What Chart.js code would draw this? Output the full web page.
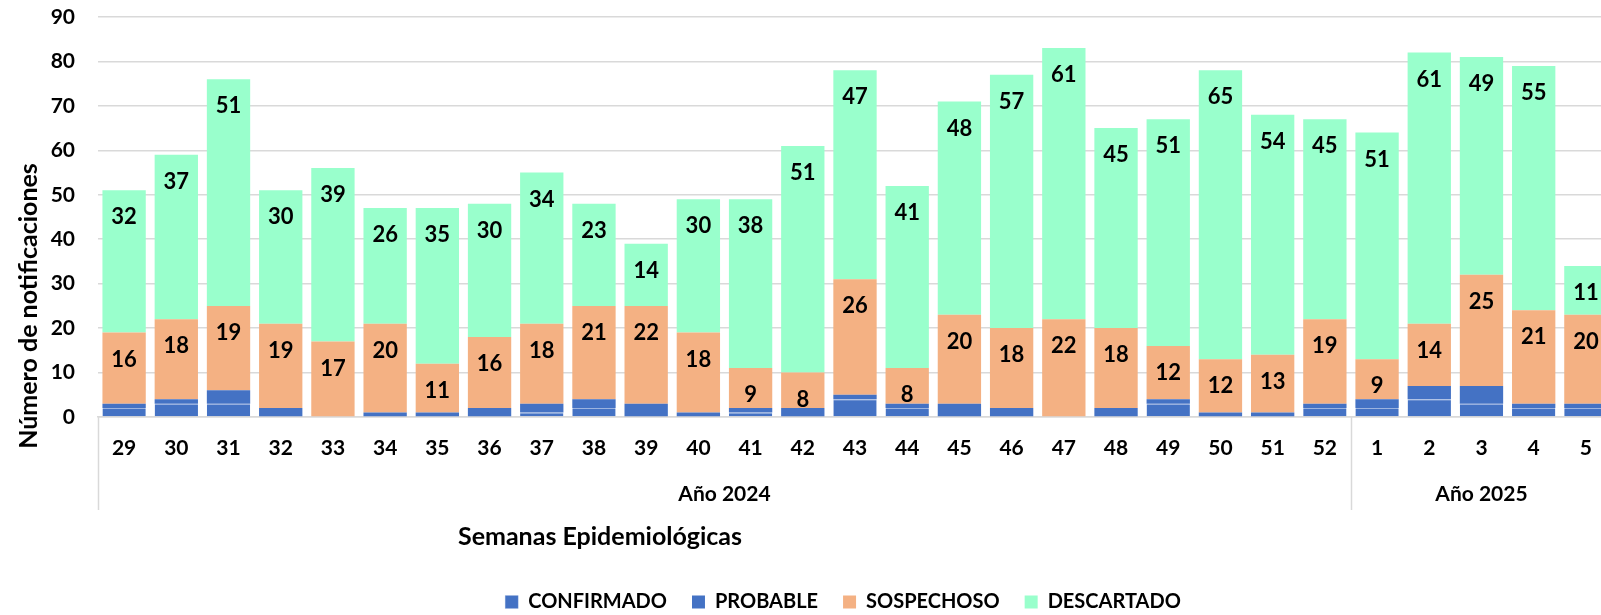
<!DOCTYPE html>
<html>
<head>
<meta charset="utf-8">
<script src="https://cdn.jsdelivr.net/npm/chart.js@4"></script>
<style>
  html, body { margin: 0; padding: 0; background: #fff; overflow: hidden; }
  #wrap { width: 1613px; height: 615px; }
</style>
</head>
<body>
<div id="wrap"><canvas id="notifChart" width="1613" height="615"></canvas></div>
<script>
// semanas epidemiologicas (29/2024 a 5/2025)
const semanas = ["29", "30", "31", "32", "33", "34", "35", "36", "37", "38", "39", "40", "41", "42", "43", "44",
    "45", "46", "47", "48", "49", "50", "51", "52", "1", "2", "3", "4", "5"];
const anios = ["Año 2024", "Año 2025"];
const semanasPorAnio = [24, 5];

const confirmado = [2, 3, 3, 0, 0, 0, 0, 0, 1, 2, 0, 0, 1, 0, 4, 2, 0, 0, 0, 0, 3, 0, 0, 2, 2, 4, 3, 2, 2];
const probable = [1, 1, 3, 2, 0, 1, 1, 2, 2, 2, 3, 1, 1, 2, 1, 1, 3, 2, 0, 2, 1, 1, 1, 1, 2, 3, 4, 1, 1];
const sospechoso = [16, 18, 19, 19, 17, 20, 11, 16, 18, 21, 22, 18, 9, 8, 26, 8, 20, 18, 22, 18, 12, 12, 13, 19, 9, 14, 25, 21, 20];
const descartado = [32, 37, 51, 30, 39, 26, 35, 30, 34, 23, 14, 30, 38, 51, 47, 41, 48, 57, 61, 45, 51, 65, 54, 45, 51, 61, 49, 55, 11];

const yTicks = [0, 10, 20, 30, 40, 50, 60, 70, 80, 90];

const FONT = "Lato, 'Open Sans', sans-serif";
const GRID = "#d9d9d9";

// etiquetas dentro del extremo de cada segmento (solo sospechoso y descartado)
const etiquetas = {
    id: "etiquetas",
    afterDatasetsDraw(chart) {
        const ctx = chart.ctx;
        ctx.save();
        ctx.font = "bold 22px " + FONT;
        ctx.fillStyle = "#000";
        ctx.textAlign = "center";
        ctx.textBaseline = "middle";
        [2, 3].forEach(di => {
            const meta = chart.getDatasetMeta(di);
            const values = chart.data.datasets[di].data;
            meta.data.forEach((bar, i) => {
                if (!values[i]) return;
                ctx.fillText(String(values[i]), bar.x, bar.y + 27);
            });
        });
        ctx.restore();
    }
};

// separadores de año, titulos de ejes
const decoraciones = {
    id: "decoraciones",
    afterLayout(chart) {
        // mover la leyenda como en el original
        const lg = chart.legend;
        lg.left += 18; lg.right += 18;
        lg.top += 7; lg.bottom += 7;
    },
    afterDraw(chart) {
        const ctx = chart.ctx;
        const x = chart.scales.x;
        const area = chart.chartArea;
        ctx.save();
        ctx.strokeStyle = GRID;
        ctx.lineWidth = 1.5;
        const half = (x.getPixelForValue(1) - x.getPixelForValue(0)) / 2;
        let start = 0;
        ctx.font = "bold 21px " + FONT;
        ctx.fillStyle = "#000";
        ctx.textAlign = "center";
        ctx.textBaseline = "middle";
        semanasPorAnio.forEach((n, g) => {
            const x0 = x.getPixelForValue(start) - half;
            const x1 = x.getPixelForValue(start + n - 1) + half;
            ctx.beginPath();
            ctx.moveTo(Math.round(x0) + 0.5, area.bottom);
            ctx.lineTo(Math.round(x0) + 0.5, area.bottom + 93);
            ctx.stroke();
            ctx.fillText(anios[g], (x0 + x1) / 2, area.bottom + 77);
            start += n;
        });
        ctx.font = "bold 25px " + FONT;
        // titulo eje x
        ctx.fillText("Semanas Epidemiológicas", 600, area.bottom + 120);
        // titulo eje y
        ctx.translate(29, 306);
        ctx.rotate(-Math.PI / 2);
        ctx.fillText("Número de notificaciones", 0, 0);
        ctx.restore();
    }
};

new Chart(document.getElementById("notifChart"), {
    type: "bar",
    data: {
        labels: semanas,
        datasets: [
            {
                label: "CONFIRMADO",
                data: confirmado,
                backgroundColor: "#4472C4",
                borderColor: "#9bb3e0",
                borderWidth: { top: 1, bottom: 0, left: 0, right: 0 },
                borderSkipped: "start"
            },
            {
                label: "PROBABLE",
                data: probable,
                backgroundColor: "#4472C4"
            },
            {
                label: "SOSPECHOSO",
                data: sospechoso,
                backgroundColor: "#F4B183"
            },
            {
                label: "DESCARTADO",
                data: descartado,
                backgroundColor: "#99FFCC"
            }
        ]
    },
    options: {
        responsive: false,
        animation: false,
        datasets: {
            bar: { categoryPercentage: 1.0, barPercentage: 0.83 }
        },
        layout: { padding: { left: 38, right: 1, top: 17, bottom: 0 } },
        plugins: {
            legend: {
                display: true,
                position: "bottom",
                labels: {
                    font: { family: FONT, size: 20, weight: "bold" },
                    color: "#000",
                    boxWidth: 13,
                    boxHeight: 13,
                    padding: 25
                }
            },
            tooltip: { enabled: false }
        },
        scales: {
            x: {
                stacked: true,
                grid: { display: false, drawTicks: false },
                border: { display: true, color: GRID, width: 1.5 },
                ticks: {
                    font: { family: FONT, size: 21, weight: "bold" },
                    color: "#000",
                    padding: 19,
                    maxRotation: 0,
                    autoSkip: false
                },
                afterFit(scale) { scale.height = 143; }
            },
            y: {
                stacked: true,
                min: 0,
                max: 90,
                afterBuildTicks(scale) { scale.ticks = yTicks.map(v => ({ value: v })); },
                grid: { color: GRID, lineWidth: 1.5, drawTicks: true, tickLength: 23, tickColor: "rgba(0,0,0,0)" },
                border: { display: false },
                ticks: {
                    font: { family: FONT, size: 21, weight: "bold" },
                    color: "#000",
                    padding: 0
                },
                afterFit(scale) { scale.width = 60; }
            }
        }
    },
    plugins: [etiquetas, decoraciones]
});
</script>
</body>
</html>
